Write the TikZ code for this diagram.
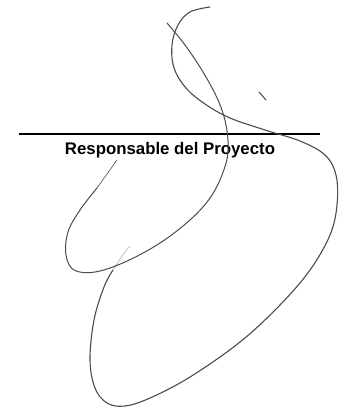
\documentclass[tikz,border=0pt]{standalone}
\usepackage{fontspec}
\setmainfont{Liberation Sans}
\definecolor{firma}{RGB}{78,72,86}
\begin{document}
\begin{tikzpicture}[x=1pt, y=-1pt,
    trazo/.style={color=firma, line width=1.1pt, line cap=round, line join=round},
    rotulo/.style={font=\fontsize{16.8}{19}\selectfont\bfseries, anchor=base, inner sep=0pt}]
    % ---------------------------------------------
    \useasboundingbox (0, 0) rectangle (339, 409);

    % signature line and caption
    \coordinate (lineaIzq) at (19, 134);
    \coordinate (lineaDer) at (320, 134);
    \draw[line width=1.6pt] (lineaIzq) -- (lineaDer);
    \node[rotulo] (cargo) at (170, 154) {Responsable del Proyecto};

    % first stroke: top hook and large loop
    \draw[trazo] plot[smooth, tension=0.6] coordinates {
        (210,7) (190,12) (178,25) (172,45) (174,68) (186,88) (205,104)
        (230,118) (265,130) (300,141) (325,155) (336,175) (337,205)
        (330,235) (310,270) (280,305) (240,342) (190,377) (150,398)
        (125,406) (107,403) (95,388) (90,360) (94,320) (104,287) (113,270)};
    \draw[trazo, line width=0.5pt, opacity=0.5] plot[smooth] coordinates {
        (113,270) (122,256) (130,246)};

    % second stroke: diagonal and small loop
    \draw[trazo, line width=1pt] plot[smooth, tension=0.6] coordinates {
        (167,23) (185,45) (203,72) (218,100) (226,125) (228,152) (222,175)
        (210,198) (190,220) (160,243) (125,262) (95,272) (74,270) (66,255)
        (68,232) (80,210) (97,188)};
    \draw[trazo, line width=0.6pt] plot[smooth] coordinates {
        (97,188) (107,174) (117,160)};

    % small tick
    \draw[trazo, line width=1pt] (259,92) -- (266,100);
  \end{tikzpicture}
\end{document}
